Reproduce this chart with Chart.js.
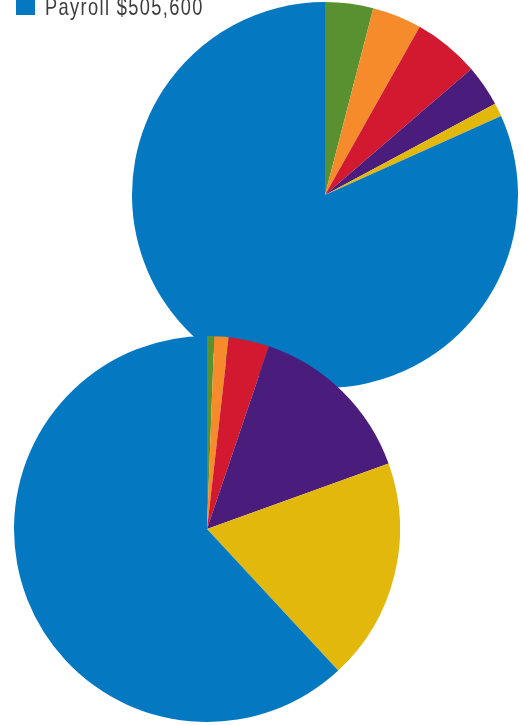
<!DOCTYPE html>
<html>
<head>
<meta charset="utf-8">
<script src="https://cdn.jsdelivr.net/npm/chart.js@4.4.0/dist/chart.umd.min.js"></script>
<style>
  html,body{margin:0;padding:0;background:#fff;width:522px;height:725px;overflow:hidden;}
  .wrap{position:absolute;}
  #topWrap{left:132px;top:2px;width:386px;height:386px;z-index:1;}
  #botWrap{left:14px;top:336px;width:386px;height:386px;z-index:2;}
  #legendSw{position:absolute;left:16px;top:0;width:19px;height:15px;z-index:3;}
  #legendTx{position:absolute;left:45px;top:-7px;z-index:3;font-family:"Liberation Sans",Arial,sans-serif;font-size:24px;line-height:28px;color:#3d3d3d;letter-spacing:1.8px;white-space:nowrap;transform:scaleX(0.76);transform-origin:0 0;}
</style>
</head>
<body>
<div id="legendSw"></div><div id="legendTx"></div>
<div class="wrap" id="topWrap"><canvas id="topPie" width="386" height="386"></canvas></div>
<div class="wrap" id="botWrap"><canvas id="botPie" width="386" height="386"></canvas></div>
<script>
// categories, order as drawn clockwise from 12 o'clock
const labels = ['Cat A','Cat B','Cat C','Cat D','Cat E','Payroll'];
const colors = ['#5a9130','#f68b2b','#d3192f','#4a1c7c','#e2b80c','#0479c1'];

// top pie ($)
const topValues = [24900, 25600, 34200, 21500, 7000, 505600];
// bottom pie (share, %)
const bottomValues = [0.6, 1.2, 3.4, 14.3, 18.6, 61.9];

// legend (only the visible entry)
const legendIndex = 5;
document.getElementById('legendSw').style.background = colors[legendIndex];
document.getElementById('legendTx').textContent = `${labels[legendIndex]} $${topValues[legendIndex].toLocaleString('en-US')}`;

function makePie(id, values){
  return new Chart(document.getElementById(id).getContext('2d'), {
    type:'pie',
    data:{labels:labels, datasets:[{data:values, backgroundColor:colors, borderWidth:0}]},
    options:{
      responsive:false, animation:false,
      layout:{padding:0},
      plugins:{legend:{display:false}, tooltip:{enabled:false}}
    }
  });
}
makePie('topPie', topValues);
makePie('botPie', bottomValues);
</script>
</body>
</html>
